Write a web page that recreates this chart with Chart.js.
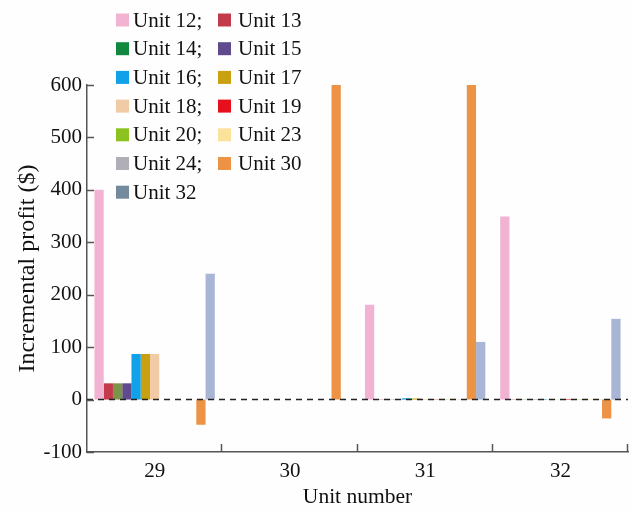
<!DOCTYPE html>
<html>
<head>
<meta charset="utf-8">
<script src="https://cdn.jsdelivr.net/npm/chart.js@4/dist/chart.umd.min.js"></script>
<style>
  html, body { margin: 0; padding: 0; background: #fefefe; }
  #wrap { position: relative; width: 633px; height: 511px; }
</style>
</head>
<body>
<div id="wrap"><canvas id="c" width="633" height="511"></canvas></div>
<script>
// ---- data ----
const categories = ['29', '30', '31', '32'];
const seriesNames = ['Unit 12', 'Unit 13', 'Unit 14', 'Unit 15', 'Unit 16', 'Unit 17', 'Unit 18',
                     'Unit 19', 'Unit 20', 'Unit 23', 'Unit 24', 'Unit 30', 'Unit 32'];
const unit12 = [400, 0, 181, 349];
const unit13 = [31, 0, 0.5, 0.5];
const unit14 = [31, 0, 0.5, 0.5];
const unit15 = [31, 0, 0.5, 0.5];
const unit16 = [87, 0, 2.5, 1];
const unit17 = [87, 0, 2, 0.5];
const unit18 = [87, 0, 1, 0.5];
const unit19 = [0, 0, 0.5, 1];
const unit20 = [0, 0, 0.5, 0.5];
const unit23 = [0, 0, 1.5, 1];
const unit24 = [0, 0, 0.5, 0.5];
const unit30 = [-48, 600, 603, -36];
const unit32 = [240, 0, 110, 154];
const seriesValues = [unit12, unit13, unit14, unit15, unit16, unit17, unit18,
                      unit19, unit20, unit23, unit24, unit30, unit32];
const yTicks = [-100, 0, 100, 200, 300, 400, 500, 600];

// ---- styles ----
const barColors = ['#f2b3d3', '#c23a4c', '#7b9448', '#5e4a8c', '#10a1e8', '#c9a00f', '#f0cba6',
                   '#e5101c', '#8bc21f', '#fbe29b', '#b0afb8', '#ec9345', '#a8b5d5'];
const swatchColors = ['#f2b3d3', '#c23a4c', '#12883f', '#5e4a8c', '#10a1e8', '#c9a00f', '#f0cba6',
                      '#e5101c', '#8bc21f', '#fbe29b', '#b0afb8', '#ec9345', '#728a9c'];
const FONT = '"Liberation Serif", "Times New Roman", serif';
const AXIS = '#555555';

const datasets = seriesNames.map((name, i) => ({
  label: name,
  data: seriesValues[i],
  backgroundColor: barColors[i],
  borderWidth: 0,
  categoryPercentage: 0.89,
  barPercentage: 1.0
}));

const decorPlugin = {
  id: 'decor',
  afterDatasetsDraw(chart) {
    const ctx = chart.ctx;
    const ys = chart.scales.y, xs = chart.scales.x;
    const area = chart.chartArea;
    ctx.save();
    // zero dashed line
    const y0 = ys.getPixelForValue(0);
    ctx.strokeStyle = '#222';
    ctx.lineWidth = 1.6;
    ctx.setLineDash([6, 5]);
    ctx.beginPath();
    ctx.moveTo(area.left, y0);
    ctx.lineTo(area.right, y0);
    ctx.stroke();
    ctx.setLineDash([]);
    // inward y ticks
    ctx.strokeStyle = AXIS;
    ctx.lineWidth = 1.5;
    yTicks.forEach(v => {
      const py = Math.round(ys.getPixelForValue(v)) + 0.5;
      ctx.beginPath();
      ctx.moveTo(area.left, py);
      ctx.lineTo(area.left + 7, py);
      ctx.stroke();
    });
    // inward x ticks at category boundaries
    for (let i = 0; i < categories.length; i++) {
      const px = Math.round(xs.getPixelForValue(i + 0.5)) - 0.5;
      ctx.beginPath();
      ctx.moveTo(px, area.bottom);
      ctx.lineTo(px, area.bottom - 8);
      ctx.stroke();
    }
    ctx.restore();
  },
  afterDraw(chart) {
    const ctx = chart.ctx;
    ctx.save();
    ctx.font = '21px ' + FONT;
    ctx.textBaseline = 'middle';
    ctx.textAlign = 'left';
    const rowY0 = 20, rowStep = 28.7;
    const cols = [{sx: 116, tx: 133}, {sx: 218, tx: 238}];
    seriesNames.forEach((name, i) => {
      const row = Math.floor(i / 2), col = i % 2;
      const y = rowY0 + row * rowStep;
      ctx.fillStyle = swatchColors[i];
      ctx.fillRect(cols[col].sx, y - 6.5, 13, 13);
      ctx.fillStyle = '#111';
      const last = (i === seriesNames.length - 1);
      ctx.fillText(col === 0 && !last ? name + ';' : name, cols[col].tx, y + 1);
    });
    ctx.restore();
  }
};

new Chart(document.getElementById('c'), {
  type: 'bar',
  data: { labels: categories, datasets },
  options: {
    responsive: false,
    animation: false,
    layout: { padding: { left: 0, right: 5, top: 85, bottom: 0 } },
    plugins: { legend: { display: false }, tooltip: { enabled: false } },
    scales: {
      x: {
        grid: { display: false, drawTicks: false },
        border: { display: true, color: AXIS, width: 1.5 },
        ticks: { font: { family: FONT, size: 21 }, color: '#111', padding: 7 },
        title: { display: true, text: 'Unit number', font: { family: FONT, size: 21.5 }, color: '#111',
                 padding: { top: 0, bottom: 1 } },
        afterFit(s) { s.height = 59; }
      },
      y: {
        min: -100, max: 600,
        grid: { display: false, drawTicks: false },
        border: { display: true, color: AXIS, width: 1.5 },
        ticks: { stepSize: 100, font: { family: FONT, size: 21 }, color: '#111', padding: 5 },
        title: { display: true, text: 'Incremental profit ($)', font: { family: FONT, size: 24 }, color: '#111',
                 padding: { top: 13, bottom: 0 } },
        afterFit(s) { s.width = 87; }
      }
    }
  },
  plugins: [decorPlugin]
});
</script>
</body>
</html>
